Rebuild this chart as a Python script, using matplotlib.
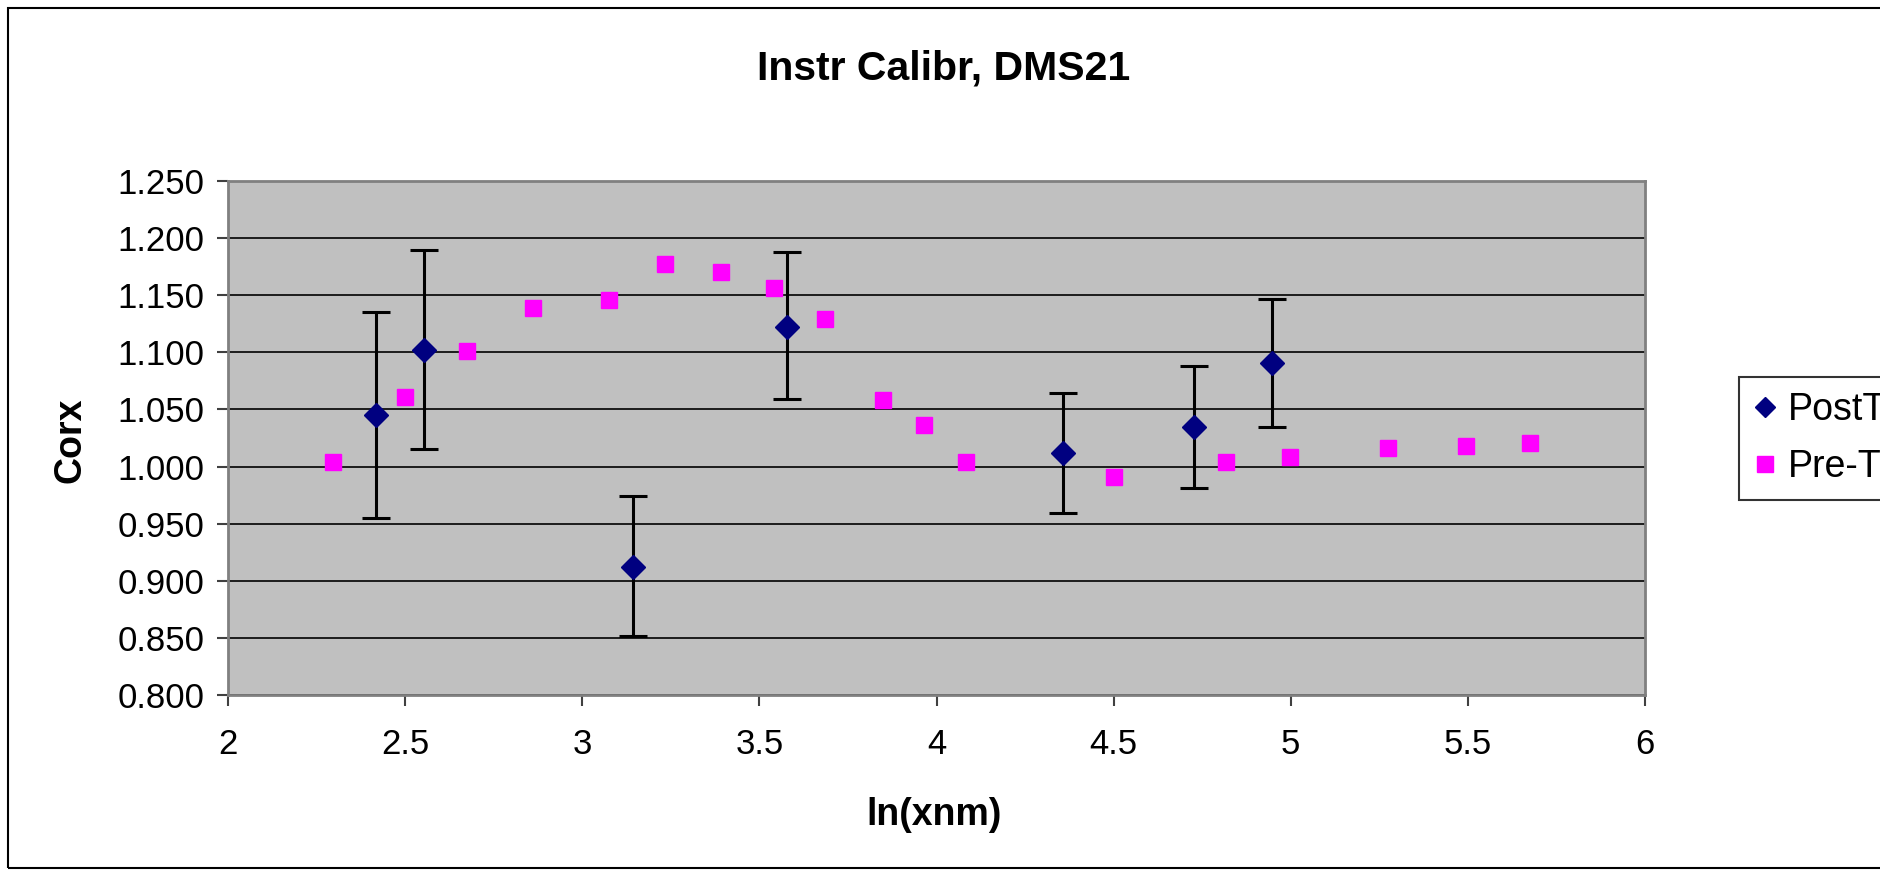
import matplotlib.pyplot as plt
from matplotlib.patches import Rectangle
from matplotlib.lines import Line2D

plt.rcParams['font.family'] = ['Liberation Sans', 'DejaVu Sans']

# Pre-T calibration points
pre_x = [2.295, 2.500, 2.674, 2.862, 3.076, 3.234, 3.392, 3.542, 3.685, 3.850,
         3.966, 4.084, 4.501, 4.816, 4.999, 5.274, 5.495, 5.675]
pre_y = [1.004, 1.061, 1.101, 1.139, 1.146, 1.177, 1.170, 1.156, 1.129, 1.058,
         1.036, 1.004, 0.991, 1.004, 1.008, 1.016, 1.018, 1.021]

# PostT points with error bar ends
post_x = [2.418, 2.552, 3.143, 3.578, 4.358, 4.727, 4.947]
post_y = [1.045, 1.102, 0.912, 1.122, 1.012, 1.035, 1.091]
post_hi = [1.135, 1.190, 0.974, 1.188, 1.064, 1.088, 1.147]
post_lo = [0.955, 1.015, 0.852, 1.059, 0.959, 0.981, 1.035]

err_lo = [y - lo for y, lo in zip(post_y, post_lo)]
err_hi = [hi - y for y, hi in zip(post_y, post_hi)]

W, H = 1880, 873
fig = plt.figure(figsize=(W / 100, H / 100), dpi=100)
ax = fig.add_axes([228 / W, 1 - 695 / H, (1645 - 228) / W, (695 - 181) / H])

# outer chart border
fig.add_artist(Rectangle((8 / W, 5 / H), 1.0, 1 - 13 / H, transform=fig.transFigure,
                         fill=False, edgecolor='black', linewidth=1.5))

ax.set_facecolor('#C0C0C0')
ax.set_xlim(2, 6)
ax.set_ylim(0.8, 1.25)
ax.set_xticks([2, 2.5, 3, 3.5, 4, 4.5, 5, 5.5, 6])
ax.set_xticklabels(['2', '2.5', '3', '3.5', '4', '4.5', '5', '5.5', '6'])
ax.set_yticks([0.8 + 0.05 * i for i in range(10)])
ax.set_yticklabels([f'{0.8 + 0.05 * i:.3f}' for i in range(10)])
ax.grid(axis='y', color='black', linewidth=1.2)
ax.set_axisbelow(True)
for s in ax.spines.values():
    s.set_color('#808080')
    s.set_linewidth(2)
ax.tick_params(axis='both', direction='out', length=8, width=1.5, color='#404040',
               labelsize=25)
ax.tick_params(axis='y', pad=9)
ax.tick_params(axis='x', pad=16)

ax.errorbar(post_x, post_y, yerr=[err_lo, err_hi], fmt='D', color='#000080',
            markersize=12, ecolor='black', elinewidth=2.2, capsize=10, capthick=2.2,
            zorder=3)
ax.plot(pre_x, pre_y, 's', color='#FF00FF', markersize=12, zorder=3)

fig.text(944 / W, 1 - 79 / H, 'Instr Calibr, DMS21', fontsize=29.5, fontweight='bold',
         ha='center', va='baseline')
fig.text(934 / W, 1 - 825 / H, 'ln(xnm)', fontsize=27, fontweight='bold',
         ha='center', va='baseline')
fig.text(70 / W, 1 - 440 / H, 'Corx', fontsize=27, fontweight='bold',
         ha='center', va='center', rotation=90)

handles = [Line2D([], [], linestyle='none', marker='D', color='#000080', markersize=10),
           Line2D([], [], linestyle='none', marker='s', color='#FF00FF', markersize=11)]
leg = fig.legend(handles, ['PostT', 'Pre-T'], loc='upper left',
                 bbox_to_anchor=(1739 / W, 1 - 377 / H),
                 fontsize=27, frameon=True, fancybox=False, edgecolor='black',
                 borderpad=0.4, handletextpad=0.3, handlelength=0.6, labelspacing=0.55,
                 borderaxespad=0)
leg.get_frame().set_linewidth(1.5)

fig.savefig('out.png', dpi=100)
